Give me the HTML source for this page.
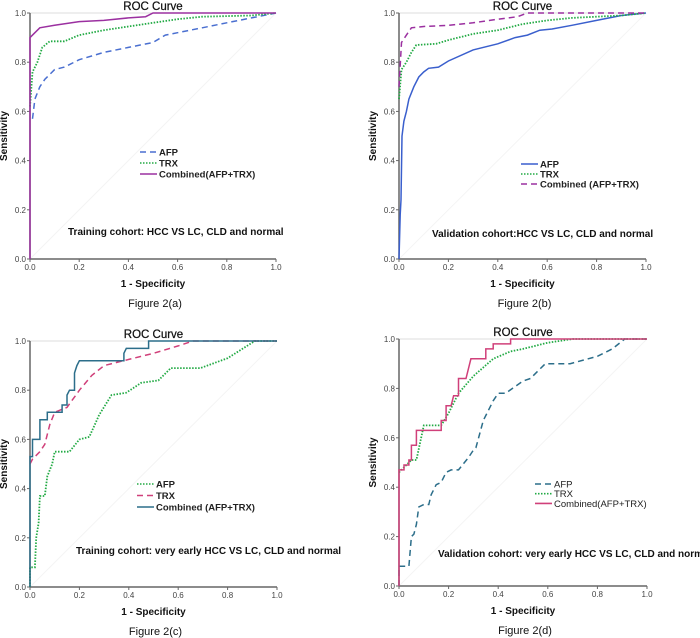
<!DOCTYPE html>
<html><head><meta charset="utf-8"><style>
html,body{margin:0;padding:0;background:#fff;width:700px;height:638px;overflow:hidden}
svg{display:block;font-family:"Liberation Sans",Arial,sans-serif}
</style></head><body>
<svg id="fig" width="700" height="638"></svg>
<script>
const ticks=[0,0.2,0.4,0.6,0.8,1.0];
const tickLabels=["0.0","0.2","0.4","0.6","0.8","1.0"];
// Panel a
const aAFP=[[0.01,0.57],[0.02,0.65],[0.04,0.70],[0.06,0.73],[0.10,0.77],[0.14,0.78],[0.2,0.81],[0.3,0.84],[0.4,0.86],[0.5,0.88],[0.55,0.91],[0.6,0.92],[0.7,0.94],[0.8,0.96],[0.9,0.98],[1,1]];
const aTRX=[[0,0.62],[0.01,0.76],[0.03,0.8],[0.05,0.86],[0.08,0.885],[0.14,0.885],[0.2,0.91],[0.3,0.93],[0.4,0.945],[0.5,0.96],[0.6,0.975],[0.7,0.985],[0.9,0.99],[1,1]];
const aCOMB=[[0,0],[0,0.90],[0.02,0.92],[0.04,0.94],[0.1,0.95],[0.2,0.965],[0.3,0.97],[0.4,0.98],[0.47,0.985],[0.5,1],[1,1]];
// Panel b
const bAFP=[[0,0],[0.005,0.18],[0.008,0.24],[0.012,0.5],[0.02,0.56],[0.03,0.6],[0.04,0.65],[0.06,0.7],[0.08,0.74],[0.1,0.76],[0.12,0.775],[0.16,0.78],[0.2,0.805],[0.3,0.85],[0.4,0.875],[0.47,0.9],[0.52,0.91],[0.57,0.93],[0.62,0.935],[0.7,0.95],[0.8,0.97],[0.9,0.99],[1,1]];
const bTRX=[[0,0.65],[0.01,0.77],[0.03,0.8],[0.05,0.84],[0.07,0.87],[0.15,0.875],[0.2,0.89],[0.3,0.915],[0.4,0.93],[0.5,0.955],[0.6,0.97],[0.7,0.98],[0.9,0.99],[1,1]];
const bCOMB=[[0,0.7],[0.01,0.88],[0.03,0.91],[0.05,0.94],[0.1,0.945],[0.2,0.95],[0.3,0.96],[0.4,0.975],[0.48,0.985],[0.52,1],[1,1]];
// Panel c
const cAFP=[[0,0],[0,0.08],[0.02,0.08],[0.025,0.2],[0.035,0.26],[0.04,0.37],[0.06,0.37],[0.07,0.45],[0.09,0.5],[0.1,0.55],[0.16,0.55],[0.2,0.6],[0.24,0.61],[0.28,0.7],[0.33,0.78],[0.39,0.79],[0.45,0.83],[0.52,0.84],[0.57,0.89],[0.69,0.89],[0.8,0.93],[0.91,1],[1,1]];
const cTRX=[[0,0.5],[0.01,0.52],[0.04,0.55],[0.06,0.58],[0.08,0.66],[0.1,0.71],[0.15,0.73],[0.2,0.8],[0.25,0.86],[0.3,0.9],[0.4,0.925],[0.5,0.95],[0.6,0.98],[0.66,1],[1,1]];
const cCOMB=[[0,0],[0,0.53],[0.01,0.53],[0.01,0.6],[0.04,0.6],[0.04,0.68],[0.07,0.68],[0.07,0.71],[0.13,0.71],[0.13,0.74],[0.15,0.74],[0.15,0.78],[0.16,0.8],[0.18,0.8],[0.18,0.87],[0.19,0.9],[0.2,0.92],[0.38,0.92],[0.38,0.95],[0.39,0.97],[0.48,0.97],[0.48,1],[1,1]];
// Panel d
const dAFP=[[0,0],[0,0.08],[0.04,0.08],[0.05,0.2],[0.06,0.21],[0.07,0.25],[0.08,0.32],[0.1,0.33],[0.12,0.33],[0.13,0.37],[0.15,0.41],[0.17,0.42],[0.19,0.46],[0.21,0.47],[0.24,0.47],[0.28,0.52],[0.3,0.55],[0.31,0.56],[0.34,0.67],[0.38,0.75],[0.4,0.78],[0.43,0.78],[0.5,0.83],[0.53,0.84],[0.59,0.9],[0.69,0.9],[0.8,0.93],[0.86,0.96],[0.91,1],[1,1]];
const dTRX=[[0,0.46],[0.02,0.48],[0.05,0.51],[0.07,0.51],[0.1,0.65],[0.17,0.65],[0.2,0.7],[0.24,0.78],[0.3,0.85],[0.38,0.92],[0.45,0.95],[0.5,0.96],[0.6,0.985],[0.7,1],[1,1]];
const dCOMB=[[0,0],[0,0.47],[0.02,0.47],[0.02,0.49],[0.04,0.49],[0.04,0.51],[0.05,0.51],[0.05,0.57],[0.07,0.57],[0.07,0.63],[0.17,0.63],[0.17,0.67],[0.19,0.67],[0.19,0.73],[0.21,0.73],[0.22,0.77],[0.24,0.77],[0.24,0.84],[0.27,0.84],[0.29,0.92],[0.35,0.92],[0.35,0.96],[0.38,0.96],[0.38,0.98],[0.45,0.98],[0.45,1],[1,1]];

const DASH="6,4", DOT="1.5,1.5";
const panels=[
 {id:"a",x0:30,x1:276,y1:13,y0:259,fig:"Figure 2(a)",note:"Training cohort: HCC VS LC, CLD and normal",noteX:68,noteY:235,legX:140,legY:152,legStep:11,
  series:[{n:"AFP",d:aAFP,c:"#4a6fd0",da:DASH},{n:"TRX",d:aTRX,c:"#22aa44",da:DOT},{n:"Combined(AFP+TRX)",d:aCOMB,c:"#9b30a0",da:""}]},
 {id:"b",x0:399,x1:646,y1:13,y0:259,fig:"Figure 2(b)",note:"Validation cohort:HCC VS LC, CLD and normal",noteX:432,noteY:237,legX:521,legY:164,legStep:10,
  series:[{n:"AFP",d:bAFP,c:"#3a5fcd",da:""},{n:"TRX",d:bTRX,c:"#22aa44",da:DOT},{n:"Combined (AFP+TRX)",d:bCOMB,c:"#9b30a0",da:DASH}]},
 {id:"c",x0:30,x1:277,y1:341,y0:587,fig:"Figure 2(c)",note:"Training cohort: very early HCC VS LC, CLD and normal",noteX:76,noteY:554,legX:137,legY:484,legStep:11.5,
  series:[{n:"AFP",d:cAFP,c:"#22aa44",da:DOT},{n:"TRX",d:cTRX,c:"#d0407a",da:DASH},{n:"Combined (AFP+TRX)",d:cCOMB,c:"#2c6e8a",da:""}]},
 {id:"d",x0:399,x1:647,y1:339,y0:586,fig:"Figure 2(d)",note:"Validation cohort: very early HCC VS LC, CLD and normal",noteX:438,noteY:557,legX:535,legY:484,legStep:9.7,
  series:[{n:"AFP",d:dAFP,c:"#2c6e8a",da:DASH},{n:"TRX",d:dTRX,c:"#22aa44",da:DOT},{n:"Combined(AFP+TRX)",d:dCOMB,c:"#d0407a",da:""}]}
];
const NS="http://www.w3.org/2000/svg";
const svg=document.getElementById("fig");
function mk(tag,attrs,parent,text){const e=document.createElementNS(NS,tag);for(const k in attrs)e.setAttribute(k,attrs[k]);if(text!==undefined)e.textContent=text;parent.appendChild(e);return e;}
panels.forEach(p=>{
 const g=mk("g",{},svg);
 
 
 const sx=v=>p.x0+v*(p.x1-p.x0), sy=v=>p.y0-v*(p.y0-p.y1);
 const diag=mk("line",{x1:sx(0),y1:sy(0),x2:sx(1),y2:sy(1),stroke:"#f4f4f4","stroke-width":1},g);
 
 
 const top=mk("line",{x1:sx(0),y1:sy(1),x2:sx(1),y2:sy(1),stroke:"#ddd","stroke-width":1},g);
 
 
 const ya=mk("line",{x1:p.x0,y1:p.y1,x2:p.x0,y2:p.y0,stroke:"#666","stroke-width":1.5},g);
 
 
 const xa=mk("line",{x1:p.x0,y1:p.y0,x2:p.x1,y2:p.y0,stroke:"#666","stroke-width":1.5},g);
 
 
 ticks.forEach((t,i)=>{
  mk("line",{x1:p.x0-3,y1:sy(t),x2:p.x0,y2:sy(t),stroke:"#666"},g);
  const yl=mk("text",{x:p.x0-4,y:sy(t)+3,"font-size":"8","text-anchor":"end",fill:"#444"},g,tickLabels[i]);
  
  
  mk("line",{x1:sx(t),y1:p.y0,x2:sx(t),y2:p.y0+3,stroke:"#666"},g);
  const xl=mk("text",{x:sx(t),y:p.y0+11,"font-size":"8","text-anchor":"middle",fill:"#444"},g,tickLabels[i]);
  
  
 });
 const cx=(p.x0+p.x1)/2;
 const title=mk("text",{x:cx,y:p.y1-3,"font-size":"11.5","text-anchor":"middle",fill:"#111","stroke":"#111","stroke-width":"0.25"},g,"ROC Curve");
 
 
 const yt=mk("text",{x:0,y:0,"font-size":"10","font-weight":"bold","text-anchor":"middle",fill:"#111",transform:`translate(${p.x0-23},${(p.y0+p.y1)/2}) rotate(-90)`},g,"Sensitivity");
 
 
 const xt=mk("text",{x:cx,y:p.y0+28,"font-size":"10","font-weight":"bold","text-anchor":"middle",fill:"#111"},g,"1 - Specificity");
 
 
 const fc=mk("text",{x:cx+2,y:p.y0+48,"font-size":"11","text-anchor":"middle",fill:"#111"},g,p.fig);
 
 
 const nt=mk("text",{x:p.noteX,y:p.noteY,"font-size":"10","font-weight":"bold",fill:"#111"},g,p.note);
 
 
 p.series.forEach((s,i)=>{
  const pts=s.d.map(q=>sx(q[0]).toFixed(1)+","+sy(q[1]).toFixed(1)).join(" ");
  const pl=mk("polyline",{points:pts,fill:"none",stroke:s.c,"stroke-width":s.da===DOT?1.8:1.5,"stroke-dasharray":s.da},g);
  
  
  const ly=p.legY+i*p.legStep;
  const ll=mk("line",{x1:p.legX,y1:ly,x2:p.legX+17,y2:ly,stroke:s.c,"stroke-width":1.6,"stroke-dasharray":s.da},g);
  
  
  const lt=mk("text",{x:p.legX+19,y:ly+3.5,"font-size":"9.5","font-weight":p.id==="d"?"normal":"bold",fill:"#222"},g,s.n);
  
  
 });
});
</script>
</body></html>
